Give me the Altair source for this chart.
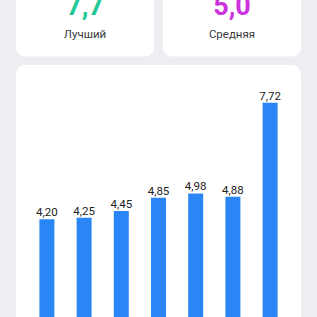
import altair as alt
import pandas as pd

# Data
categories = ["1", "2", "3", "4", "5", "6", "7"]
values = [4.20, 4.25, 4.45, 4.85, 4.98, 4.88, 7.72]
card_titles = ["Лучший", "Средняя"]
card_values = ["7,7", "5,0"]
card_colors = ["#22c997", "#cc33dd"]

df = pd.DataFrame({
    "cat": categories,
    "value": values,
    "label": [f"{v:.2f}".replace(".", ",") for v in values],
})
one = alt.Data(values=[{"a": 1}])

FONT = "Roboto"


def card(x0, x1, y0, y1):
    return alt.Chart(one).mark_rect(fill="white", cornerRadius=9).encode(
        x=alt.value(x0), x2=alt.value(x1), y=alt.value(y0), y2=alt.value(y1)
    )


cards = [card(16, 154, -20, 56.5), card(163, 301, -20, 56.5), card(16, 301, 65, 360)]

card_texts = []
centers = [85, 232]
for i in range(2):
    card_texts.append(
        alt.Chart(one).mark_text(
            text=card_values[i], font=FONT, fontSize=27, fontWeight="bold",
            color=card_colors[i], baseline="alphabetic", align="center"
        ).encode(x=alt.value(centers[i]), y=alt.value(15))
    )
    card_texts.append(
        alt.Chart(one).mark_text(
            text=card_titles[i], font=FONT, fontSize=11.5,
            color="#3a3a3a", baseline="alphabetic", align="center"
        ).encode(x=alt.value(centers[i]), y=alt.value(38))
    )

xenc = alt.X("cat:N", sort=None, axis=None,
             scale=alt.Scale(range=[28.3, 288.7], paddingInner=0, paddingOuter=0))
yenc = alt.Y("value:Q", axis=None,
             scale=alt.Scale(domain=[1.248, 10.825], nice=False, zero=False))

base = alt.Chart(df)
bars = base.mark_bar(width=15, color="#2b86f5", clip=True).encode(x=xenc, y=yenc)
labels = base.mark_text(
    font=FONT, fontSize=11.5, color="#222222", baseline="alphabetic", dy=-3
).encode(x=xenc, y=yenc, text="label:N")

chart = alt.layer(*cards, *card_texts, bars, labels).properties(
    width=317, height=317, padding=0, autosize="none", background="#eceef1"
).configure_view(stroke=None)

chart.save("out.html", embed_options={"renderer": "svg", "actions": False})
